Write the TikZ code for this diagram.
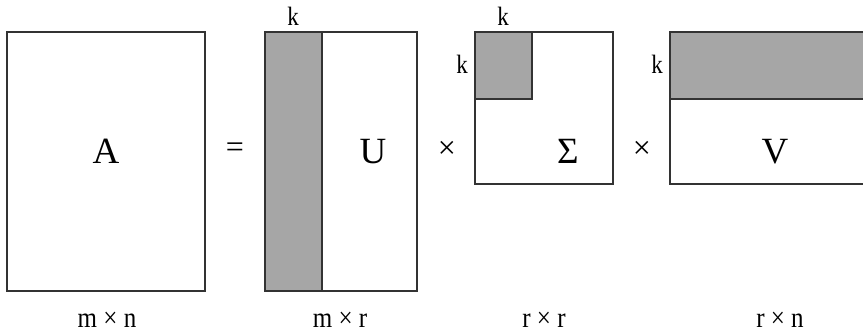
\documentclass[tikz,border=0pt]{standalone}
\usepackage{fontspec}
\setmainfont{Liberation Serif}
\definecolor{edgecol}{HTML}{333333}
\definecolor{greyfill}{HTML}{A6A6A6}
\newcommand{\tallish}[1]{\scalebox{1}[1.15]{#1}}
\begin{document}
\begin{tikzpicture}[x=1pt,y=-1pt,
  mat/.style={draw=edgecol,line width=1.4pt},
  blk/.style={draw=edgecol,fill=greyfill,line width=1.4pt},
  big/.style={font=\fontsize{37}{37}\selectfont,anchor=base,inner sep=0pt},
  op/.style={font=\fontsize{32}{32}\selectfont,inner sep=0pt},
  klab/.style={font=\fontsize{23}{23}\selectfont,anchor=base,inner sep=0pt},
  dim/.style={font=\fontsize{25}{25}\selectfont,anchor=base,inner sep=0pt}]
\useasboundingbox (0,0) rectangle (863,333);
% A
\draw[mat] (7,32) rectangle (205,291);
\node[big] (A) at (106,163) {A};
\node[op] (eq) at (235,150) {=};
% U
\draw[mat] (265,32) rectangle (417,291);
\draw[blk] (265,32) rectangle (322,291);
\node[big] (U) at (373,163) {U};
\node[klab] (kU) at (293,25) {\tallish{k}};
\node[op] (x1) at (447,150) {×};
% Sigma
\draw[mat] (475,32) rectangle (613,184);
\draw[blk] (475,32) rectangle (532,99);
\node[big] (S) at (568,163) {Σ};
\node[klab] (kS1) at (503,25) {\tallish{k}};
\node[klab] (kS2) at (462,73) {\tallish{k}};
\node[op] (x2) at (642,150) {×};
% V (runs off the right edge)
\fill[fill=greyfill] (670,32) rectangle (863,99);
\draw[mat] (863,32) -- (670,32) -- (670,184) -- (863,184);
\draw[mat] (670,99) -- (863,99);
\node[big] (V) at (775,163) {V};
\node[klab] (kV) at (657,73) {\tallish{k}};
% dimensions
\node[dim] (d1) at (107,327) {\tallish{m × n}};
\node[dim] (d2) at (340,327) {\tallish{m × r}};
\node[dim] (d3) at (544,327) {\tallish{r × r}};
\node[dim] (d4) at (780,327) {\tallish{r × n}};
\end{tikzpicture}
\end{document}
